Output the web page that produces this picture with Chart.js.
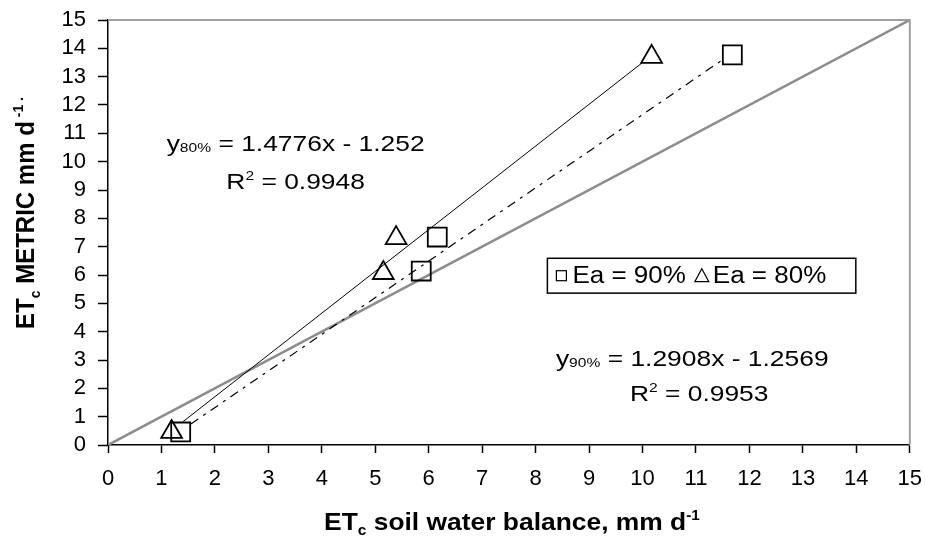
<!DOCTYPE html>
<html>
<head>
<meta charset="utf-8">
<script src="https://cdn.jsdelivr.net/npm/chart.js@4.4.0/dist/chart.umd.min.js"></script>
<style>
  html, body { margin: 0; padding: 0; background: #fff; }
  #wrap { width: 925px; height: 548px; }
</style>
</head>
<body>
<div id="wrap"><canvas id="chart" width="925" height="548"></canvas></div>
<script>
// values
var ea90X = [1.36, 5.86, 6.16, 11.68];
var ea90Y = [0.46, 6.14, 7.34, 13.77];
var ea80X = [1.19, 5.15, 5.39, 10.17];
var ea80Y = [0.46, 6.07, 7.30, 13.70];
// trend line ends as drawn
var fit90X = [1.55, 11.5];
var fit90Y = [0.74, 13.6];
var fit80X = [1.4, 10.0];
var fit80Y = [0.82, 13.5];
// 1:1 line
var oneX = [0, 15];
var oneY = [0, 15];
var axisMin = 0, axisMax = 15, axisStep = 1;
var eq80 = { sub: '80%', rest: ' = 1.4776x - 1.252', r2: ' = 0.9948' };
var eq90 = { sub: '90%', rest: ' = 1.2908x - 1.2569', r2: ' = 0.9953' };
var legendLabels = ['Ea = 90%', 'Ea = 80%'];

var FONT = "'Liberation Sans', Arial, sans-serif";

function pts(xs, ys) {
    return xs.map(function (x, i) { return { x: x, y: ys[i] }; });
}

// draws a run of text pieces (sub/superscripts) centred on cx, cy
function drawRun(ctx, parts, cx, cy, sx, rotate) {
    var w = 0;
    parts.forEach(function (p) { ctx.font = p.font; p.w = ctx.measureText(p.t).width; w += p.w; });
    ctx.save();
    ctx.translate(cx, cy);
    ctx.scale(sx, 1);
    if (rotate) ctx.rotate(-Math.PI / 2);
    ctx.fillStyle = '#000';
    ctx.textBaseline = 'alphabetic';
    ctx.textAlign = 'left';
    var x = -w / 2;
    parts.forEach(function (p) {
        ctx.font = p.font;
        ctx.fillText(p.t, x, (p.dy || 0));
        x += p.w;
    });
    ctx.restore();
    return w * sx;
}

var overlay = {
    id: 'overlay',
    beforeDraw: function (chart) {
        var ctx = chart.ctx;
        ctx.save();
        ctx.fillStyle = '#fff';
        ctx.fillRect(0, 0, chart.width, chart.height);
        ctx.restore();
    },
    afterDraw: function (chart) {
        var ctx = chart.ctx, a = chart.chartArea;
        var xs = chart.scales.x, ys = chart.scales.y;
        var px = function (v) { return xs.getPixelForValue(v); };
        var py = function (v) { return ys.getPixelForValue(v); };

        // gray frame top and right
        ctx.save();
        ctx.strokeStyle = '#a0a0a0';
        ctx.lineWidth = 2;
        ctx.beginPath();
        ctx.moveTo(a.left, a.top);
        ctx.lineTo(a.right, a.top);
        ctx.lineTo(a.right, a.bottom);
        ctx.stroke();
        ctx.restore();

        var big = '22px ' + FONT, small = '13px ' + FONT;
        // trend labels
        drawRun(ctx, [{ t: 'y', font: big }, { t: eq80.sub, font: small, dy: 1 }, { t: eq80.rest, font: big }],
            px(3.51), py(10.66) + 8, 1.2);
        drawRun(ctx, [{ t: 'R', font: big }, { t: '2', font: small, dy: -9 }, { t: eq80.r2, font: big }],
            px(3.51), py(9.32) + 8, 1.2);
        drawRun(ctx, [{ t: 'y', font: big }, { t: eq90.sub, font: small, dy: 1 }, { t: eq90.rest, font: big }],
            px(10.93), py(3.07) + 8, 1.2);
        drawRun(ctx, [{ t: 'R', font: big }, { t: '2', font: small, dy: -9 }, { t: eq90.r2, font: big }],
            px(11.06), py(1.84) + 8, 1.2);

        // legend box
        var bl = px(8.22), br = px(13.99), bt = py(6.59), bb = py(5.36);
        var my = (bt + bb) / 2;
        ctx.save();
        ctx.strokeStyle = '#000';
        ctx.lineWidth = 1.5;
        ctx.strokeRect(bl, bt, br - bl, bb - bt);
        ctx.lineWidth = 1.2;
        ctx.strokeRect(bl + 9, my - 5, 10, 10);
        ctx.font = '23px ' + FONT;
        ctx.textBaseline = 'middle';
        ctx.fillStyle = '#000';
        ctx.save();
        ctx.translate(bl + 25, my);
        ctx.scale(1.13, 1);
        ctx.fillText(legendLabels[0], 0, 1);
        var w0 = ctx.measureText(legendLabels[0]).width * 1.13;
        ctx.restore();
        var tx = bl + 25 + w0 + 16;
        ctx.beginPath();
        ctx.moveTo(tx, my - 7);
        ctx.lineTo(tx + 7, my + 6);
        ctx.lineTo(tx - 7, my + 6);
        ctx.closePath();
        ctx.stroke();
        ctx.translate(tx + 11, my);
        ctx.scale(1.13, 1);
        ctx.fillText(legendLabels[1], 0, 1);
        ctx.restore();

        // axis titles
        var tb = 'bold 24px ' + FONT, ts = 'bold 14px ' + FONT;
        drawRun(ctx, [{ t: 'ET', font: tb }, { t: 'c', font: ts, dy: 5 },
            { t: ' soil water balance, mm d', font: tb }, { t: '-1', font: ts, dy: -10 }],
            512, 530, 1.1);
        drawRun(ctx, [{ t: 'ET', font: tb }, { t: 'c', font: ts, dy: 5 },
            { t: ' METRIC mm d', font: tb }, { t: ' -1 .', font: ts, dy: -10 }],
            34, 213, 1.1, true);
    }
};

var ctx = document.getElementById('chart');
var chart = new Chart(ctx, {
    type: 'scatter',
    data: {
        datasets: [
            { label: '1:1', data: pts(oneX, oneY), showLine: true, borderColor: '#8c8c8c', borderWidth: 2.5, pointRadius: 0, order: 5 },
            { label: 'fit 80', data: pts(fit80X, fit80Y), showLine: true, borderColor: '#000', borderWidth: 1, pointRadius: 0, order: 3 },
            { label: 'fit 90', data: pts(fit90X, fit90Y), showLine: true, borderColor: '#000', borderWidth: 1.2, borderDash: [9, 6, 3, 6], pointRadius: 0, order: 3 },
            { label: 'Ea = 90%', data: pts(ea90X, ea90Y), pointStyle: 'rect', pointRadius: 13.4, borderColor: '#000', borderWidth: 1.8, backgroundColor: 'rgba(0,0,0,0)', order: 1 },
            { label: 'Ea = 80%', data: pts(ea80X, ea80Y), pointStyle: 'triangle', pointRadius: 12, borderColor: '#000', borderWidth: 1.8, backgroundColor: 'rgba(0,0,0,0)', order: 1 }
        ]
    },
    options: {
        responsive: false,
        animation: false,
        layout: { padding: { left: 0, top: 20, right: 14, bottom: 0 } },
        plugins: { legend: { display: false }, tooltip: { enabled: false } },
        scales: {
            x: {
                type: 'linear', min: axisMin, max: axisMax,
                ticks: { stepSize: axisStep, autoSkip: false, color: '#000', font: { family: FONT, size: 22 }, padding: 13, maxRotation: 0 },
                grid: { drawOnChartArea: false, drawTicks: true, tickLength: 8, tickColor: '#000', tickWidth: 1.5 },
                border: { color: '#000', width: 1.5 },
                afterFit: function (s) { s.height = 103; s.paddingLeft = 0; s.paddingRight = 0; }
            },
            y: {
                type: 'linear', min: axisMin, max: axisMax,
                ticks: { stepSize: axisStep, autoSkip: false, color: '#000', font: { family: FONT, size: 22 }, padding: 12 },
                grid: { drawOnChartArea: false, drawTicks: true, tickLength: 10, tickColor: '#000', tickWidth: 1.5 },
                border: { color: '#000', width: 1.5 },
                afterFit: function (s) { s.width = 108; s.paddingTop = 0; s.paddingBottom = 0; }
            }
        }
    },
    plugins: [overlay]
});
</script>
</body>
</html>
